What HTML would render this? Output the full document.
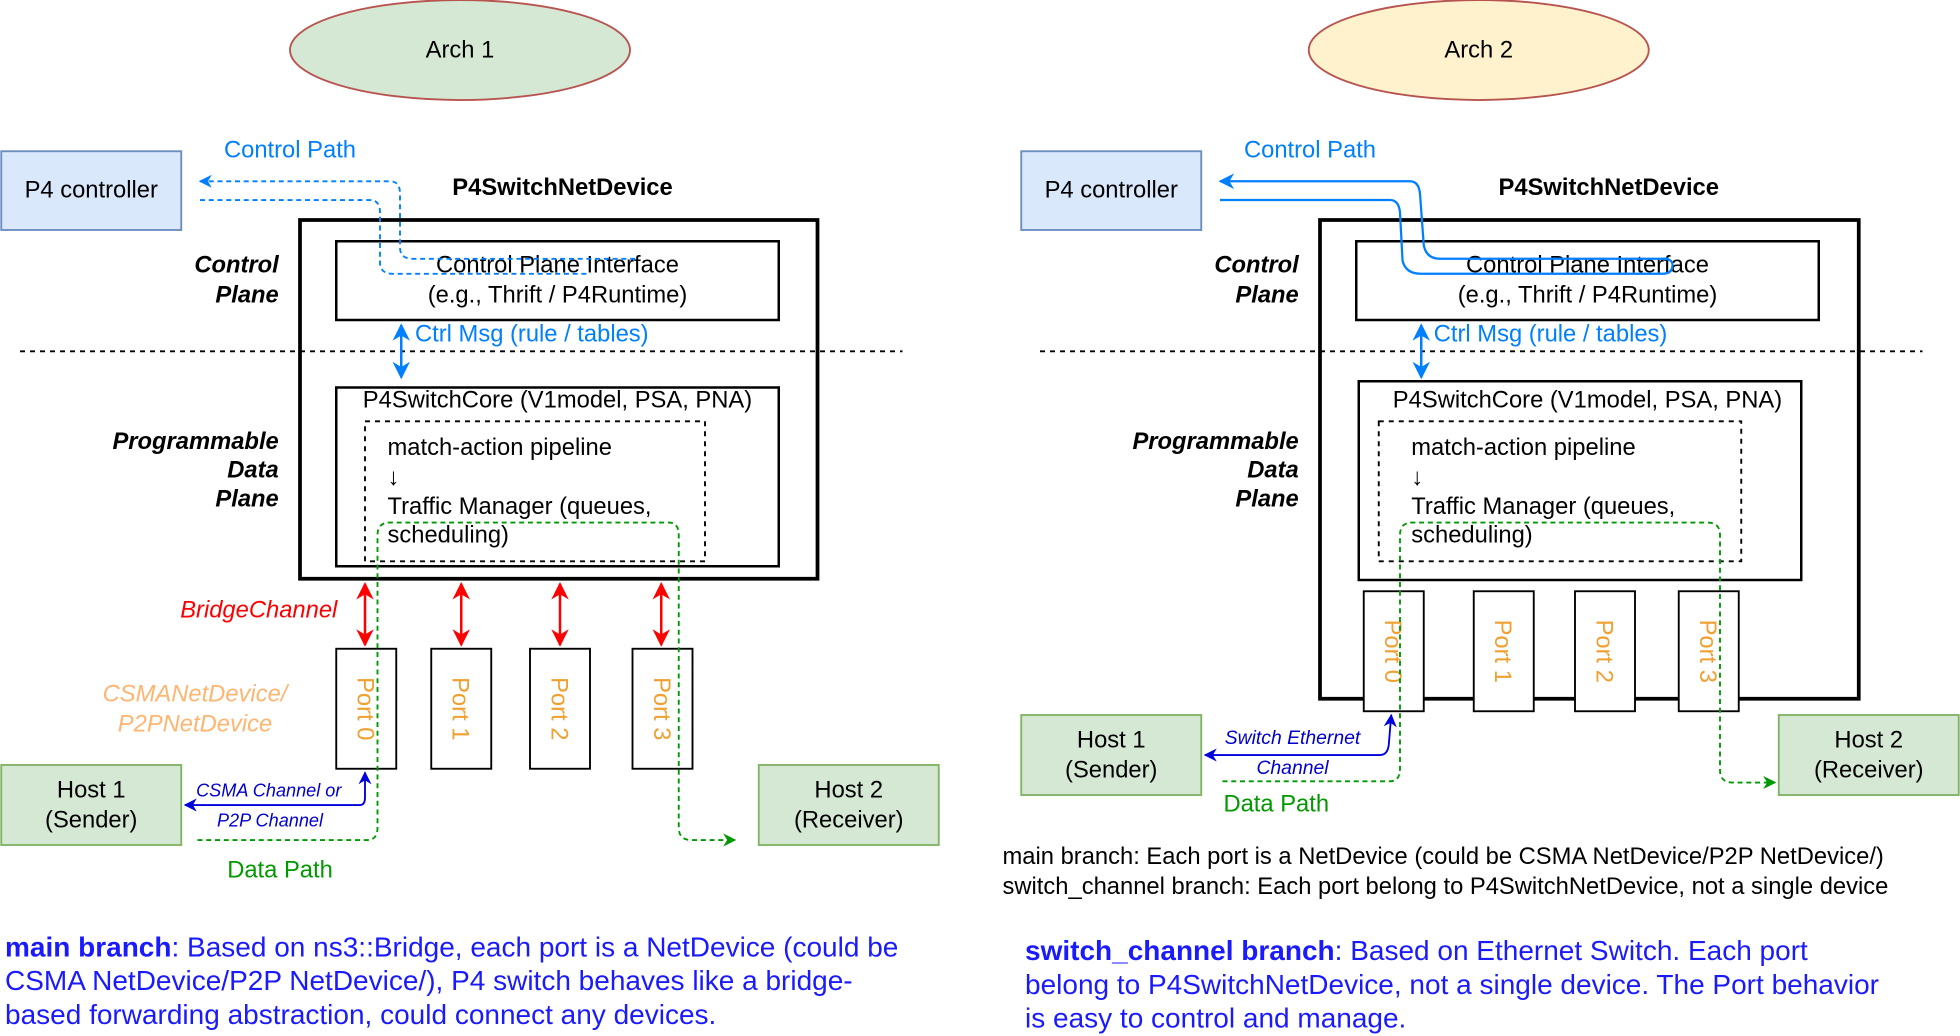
<!DOCTYPE html>
<html><head><meta charset="utf-8"><style>
html,body{margin:0;padding:0;background:#fff;width:1960px;height:1036px;overflow:hidden}
svg{display:block}
text{font-family:"Liberation Sans",Arial,sans-serif}
</style></head><body>
<svg width="1960" height="1036" viewBox="0 0 1568 828.8" preserveAspectRatio="none" xmlns="http://www.w3.org/2000/svg">
<defs>
<marker id="ab" viewBox="0 0 10 10" refX="9" refY="5" markerWidth="7" markerHeight="7" orient="auto-start-reverse"><path d="M0,0 L10,5 L0,10 L3,5 z" fill="#007fff"/></marker>
<marker id="ar" viewBox="0 0 10 10" refX="9" refY="5" markerWidth="7" markerHeight="7" orient="auto-start-reverse"><path d="M0,0 L10,5 L0,10 L3,5 z" fill="#ff0000"/></marker>
<marker id="ad" viewBox="0 0 10 10" refX="9" refY="5" markerWidth="7" markerHeight="7" orient="auto-start-reverse"><path d="M0,0 L10,5 L0,10 L3,5 z" fill="#0000dd"/></marker>
<marker id="ag" viewBox="0 0 10 10" refX="9" refY="5" markerWidth="7" markerHeight="7" orient="auto"><path d="M0,0 L10,5 L0,10 L3,5 z" fill="#009900"/></marker>
</defs>
<g font-size="19">
<!-- LEFT -->
<ellipse cx="368" cy="40" rx="136" ry="40" fill="#d5e8d4" stroke="#b85450" stroke-width="1.5"/>
<text x="368" y="46" text-anchor="middle">Arch 1</text>
<rect x="1" y="121" width="144" height="63" fill="#dae8fc" stroke="#6c8ebf" stroke-width="1.5"/>
<text x="73" y="158" text-anchor="middle">P4 controller</text>
<text x="232" y="126" text-anchor="middle" fill="#007fff">Control Path</text>
<text x="450" y="156" text-anchor="middle" font-weight="bold">P4SwitchNetDevice</text>
<rect x="240" y="176" width="414" height="287" fill="none" stroke="#000" stroke-width="3"/>
<rect x="269" y="193" width="354" height="63" fill="none" stroke="#000" stroke-width="2"/>
<text x="446" y="218" text-anchor="middle">Control Plane Interface</text>
<text x="446" y="242" text-anchor="middle">(e.g., Thrift / P4Runtime)</text>
<line x1="16" y1="281" x2="722" y2="281" stroke="#000" stroke-width="1.5" stroke-dasharray="4,4"/>
<line x1="321" y1="260" x2="321" y2="302" stroke="#007fff" stroke-width="2" marker-start="url(#ab)" marker-end="url(#ab)"/>
<text x="332" y="273" fill="#007fff">Ctrl Msg (rule / tables)</text>
<rect x="269" y="310" width="354" height="143" fill="none" stroke="#000" stroke-width="2"/>
<text x="446" y="326" text-anchor="middle">P4SwitchCore (V1model, PSA, PNA)</text>
<rect x="292" y="337" width="272" height="112" fill="none" stroke="#000" stroke-width="1.5" stroke-dasharray="4,4"/>
<text x="310" y="364">match-action pipeline</text>
<text x="310" y="388">↓</text>
<text x="310" y="411">Traffic Manager (queues,</text>
<text x="310" y="434">scheduling)</text>
<g font-weight="bold" font-style="italic" text-anchor="end">
<text x="223" y="218">Control</text><text x="223" y="242">Plane</text>
<text x="223" y="359">Programmable</text><text x="223" y="382">Data</text><text x="223" y="405">Plane</text>
</g>
<path d="M160,145 H312 Q320,145 320,155 V198 Q320,207 330,207 H510" fill="none" stroke="#007fff" stroke-width="1.5" stroke-dasharray="4,3" marker-start="url(#ab)"/>
<path d="M160,160 H296 Q304,160 304,170 V210 Q304,219 314,219 H470" fill="none" stroke="#007fff" stroke-width="1.5" stroke-dasharray="4,3"/>
<g fill="#fff" stroke="#000" stroke-width="1.5">
<rect x="269" y="519" width="48" height="96"/><rect x="345" y="519" width="48" height="96"/><rect x="424" y="519" width="48" height="96"/><rect x="506" y="519" width="48" height="96"/>
</g>
<g fill="#f0a030">
<text transform="translate(286,567) rotate(90)" text-anchor="middle">Port 0</text>
<text transform="translate(362,567) rotate(90)" text-anchor="middle">Port 1</text>
<text transform="translate(441,567) rotate(90)" text-anchor="middle">Port 2</text>
<text transform="translate(523,567) rotate(90)" text-anchor="middle">Port 3</text>
</g>
<g stroke="#ff0000" stroke-width="2">
<line x1="292" y1="467" x2="292" y2="516" marker-start="url(#ar)" marker-end="url(#ar)"/>
<line x1="369" y1="467" x2="369" y2="516" marker-start="url(#ar)" marker-end="url(#ar)"/>
<line x1="448" y1="467" x2="448" y2="516" marker-start="url(#ar)" marker-end="url(#ar)"/>
<line x1="529" y1="467" x2="529" y2="516" marker-start="url(#ar)" marker-end="url(#ar)"/>
</g>
<text x="207" y="494" text-anchor="middle" fill="#ff0000" font-style="italic">BridgeChannel</text>
<text x="156" y="561" text-anchor="middle" fill="#ffb570" font-style="italic">CSMANetDevice/</text>
<text x="156" y="585" text-anchor="middle" fill="#ffb570" font-style="italic">P2PNetDevice</text>
<rect x="1" y="612" width="144" height="64" fill="#d5e8d4" stroke="#82b366" stroke-width="1.5"/>
<text x="73" y="638" text-anchor="middle">Host 1</text><text x="73" y="662" text-anchor="middle">(Sender)</text>
<rect x="607" y="612" width="144" height="64" fill="#d5e8d4" stroke="#82b366" stroke-width="1.5"/>
<text x="679" y="638" text-anchor="middle">Host 2</text><text x="679" y="662" text-anchor="middle">(Receiver)</text>
<path d="M148,644 H288 Q292,644 292,638 V618" fill="none" stroke="#0000dd" stroke-width="1.5" marker-start="url(#ad)" marker-end="url(#ad)"/>
<text x="215" y="637" text-anchor="middle" fill="#0000cc" font-size="14.5" font-style="italic">CSMA Channel or</text>
<text x="216" y="661" text-anchor="middle" fill="#0000cc" font-size="14.5" font-style="italic">P2P Channel</text>
<path d="M158,672 H294 Q302,672 302,662 V428 Q302,418 312,418 H535 Q543,418 543,428 V662 Q543,672 553,672 H588" fill="none" stroke="#009900" stroke-width="1.5" stroke-dasharray="4,3" marker-end="url(#ag)"/>
<text x="224" y="702" text-anchor="middle" fill="#009900">Data Path</text>
<g fill="#1a1aff" font-size="22.4">
<text x="4" y="765"><tspan font-weight="bold">main branch</tspan>: Based on ns3::Bridge, each port is a NetDevice (could be</text>
<text x="4" y="792">CSMA NetDevice/P2P NetDevice/), P4 switch behaves like a bridge-</text>
<text x="4" y="819">based forwarding abstraction, could connect any devices.</text>
</g>

<!-- RIGHT -->
<ellipse cx="1183" cy="40" rx="136" ry="40" fill="#fff2cc" stroke="#b85450" stroke-width="1.5"/>
<text x="1183" y="46" text-anchor="middle">Arch 2</text>
<rect x="817" y="121" width="144" height="63" fill="#dae8fc" stroke="#6c8ebf" stroke-width="1.5"/>
<text x="889" y="158" text-anchor="middle">P4 controller</text>
<text x="1048" y="126" text-anchor="middle" fill="#007fff">Control Path</text>
<text x="1287" y="156" text-anchor="middle" font-weight="bold">P4SwitchNetDevice</text>
<rect x="1056" y="176" width="431" height="383" fill="none" stroke="#000" stroke-width="3"/>
<rect x="1085" y="193" width="370" height="63" fill="none" stroke="#000" stroke-width="2"/>
<text x="1270" y="218" text-anchor="middle">Control Plane Interface</text>
<text x="1270" y="242" text-anchor="middle">(e.g., Thrift / P4Runtime)</text>
<line x1="832" y1="281" x2="1538" y2="281" stroke="#000" stroke-width="1.5" stroke-dasharray="4,4"/>
<line x1="1137" y1="260" x2="1137" y2="302" stroke="#007fff" stroke-width="2" marker-start="url(#ab)" marker-end="url(#ab)"/>
<text x="1147" y="273" fill="#007fff">Ctrl Msg (rule / tables)</text>
<rect x="1087" y="305" width="354" height="159" fill="none" stroke="#000" stroke-width="2"/>
<text x="1270" y="326" text-anchor="middle">P4SwitchCore (V1model, PSA, PNA)</text>
<rect x="1103" y="337" width="290" height="112" fill="none" stroke="#000" stroke-width="1.5" stroke-dasharray="4,4"/>
<text x="1129" y="364">match-action pipeline</text>
<text x="1129" y="388">↓</text>
<text x="1129" y="411">Traffic Manager (queues,</text>
<text x="1129" y="434">scheduling)</text>
<g font-weight="bold" font-style="italic" text-anchor="end">
<text x="1039" y="218">Control</text><text x="1039" y="242">Plane</text>
<text x="1039" y="359">Programmable</text><text x="1039" y="382">Data</text><text x="1039" y="405">Plane</text>
</g>
<path d="M976,145 H1128 Q1135,145 1136,155 L1139,196 Q1141,207 1152,207 H1335" fill="none" stroke="#007fff" stroke-width="1.8" marker-start="url(#ab)"/>
<path d="M976,160 H1112 Q1119,160 1120,170 L1122,208 Q1124,219 1137,219 H1330 Q1338,219 1338,212 Q1338,207 1330,207" fill="none" stroke="#007fff" stroke-width="1.8"/>
<g fill="#fff" stroke="#000" stroke-width="1.5">
<rect x="1091" y="473" width="48" height="96"/><rect x="1179" y="473" width="48" height="96"/><rect x="1260" y="473" width="48" height="96"/><rect x="1343" y="473" width="48" height="96"/>
</g>
<g fill="#f0a030">
<text transform="translate(1108,521) rotate(90)" text-anchor="middle">Port 0</text>
<text transform="translate(1196,521) rotate(90)" text-anchor="middle">Port 1</text>
<text transform="translate(1277,521) rotate(90)" text-anchor="middle">Port 2</text>
<text transform="translate(1360,521) rotate(90)" text-anchor="middle">Port 3</text>
</g>
<rect x="817" y="572" width="144" height="64" fill="#d5e8d4" stroke="#82b366" stroke-width="1.5"/>
<text x="889" y="598" text-anchor="middle">Host 1</text><text x="889" y="622" text-anchor="middle">(Sender)</text>
<rect x="1423" y="572" width="144" height="64" fill="#d5e8d4" stroke="#82b366" stroke-width="1.5"/>
<text x="1495" y="598" text-anchor="middle">Host 2</text><text x="1495" y="622" text-anchor="middle">(Receiver)</text>
<path d="M964,604 H1104 Q1110,604 1111,596 L1113,572" fill="none" stroke="#0000dd" stroke-width="1.5" marker-start="url(#ad)" marker-end="url(#ad)"/>
<text x="1034" y="595" text-anchor="middle" fill="#0000cc" font-size="15.5" font-style="italic">Switch Ethernet</text>
<text x="1034" y="619" text-anchor="middle" fill="#0000cc" font-size="15.5" font-style="italic">Channel</text>
<path d="M978,625 H1112 Q1120,625 1120,615 V428 Q1120,418 1130,418 H1366 Q1376,418 1376,428 V616 Q1376,626 1386,626 H1420" fill="none" stroke="#009900" stroke-width="1.5" stroke-dasharray="4,3" marker-end="url(#ag)"/>
<text x="1021" y="649" text-anchor="middle" fill="#009900">Data Path</text>
<text x="802" y="691" font-size="19">main branch: Each port is a NetDevice (could be CSMA NetDevice/P2P NetDevice/)</text>
<text x="802" y="715" font-size="19">switch_channel branch: Each port belong to P4SwitchNetDevice, not a single device</text>
<g fill="#1a1aff" font-size="22.4">
<text x="820" y="768"><tspan font-weight="bold">switch_channel branch</tspan>: Based on Ethernet Switch. Each port</text>
<text x="820" y="795">belong to P4SwitchNetDevice, not a single device. The Port behavior</text>
<text x="820" y="822">is easy to control and manage.</text>
</g>
</g>
</svg>
</body></html>
